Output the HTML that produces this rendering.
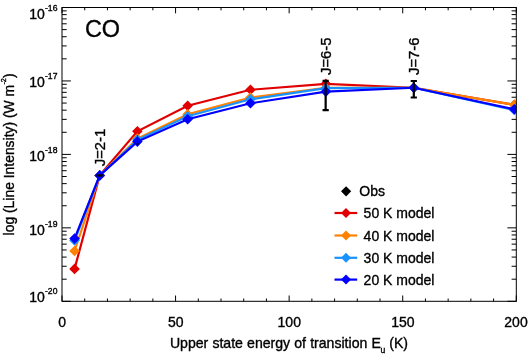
<!DOCTYPE html>
<html><head><meta charset="utf-8"><title>CO</title>
<style>html,body{margin:0;padding:0;background:#fff;}svg{display:block;}text{font-family:"Liberation Sans",sans-serif;fill:#000;stroke:#000;stroke-width:0.35px;}</style>
</head><body>
<svg width="530" height="360" viewBox="0 0 530 360" style="will-change:transform">
<rect x="0" y="0" width="530" height="360" fill="#fff"/>
<defs><clipPath id="c"><rect x="62.0" y="7.5" width="454.29999999999995" height="293.8"/></clipPath></defs>
<path d="M62.00,301.3v-5.8M62.00,7.5v5.8M84.72,301.3v-2.8M84.72,7.5v2.8M107.43,301.3v-2.8M107.43,7.5v2.8M130.14,301.3v-2.8M130.14,7.5v2.8M152.86,301.3v-2.8M152.86,7.5v2.8M175.57,301.3v-5.8M175.57,7.5v5.8M198.29,301.3v-2.8M198.29,7.5v2.8M221.00,301.3v-2.8M221.00,7.5v2.8M243.72,301.3v-2.8M243.72,7.5v2.8M266.43,301.3v-2.8M266.43,7.5v2.8M289.15,301.3v-5.8M289.15,7.5v5.8M311.86,301.3v-2.8M311.86,7.5v2.8M334.58,301.3v-2.8M334.58,7.5v2.8M357.29,301.3v-2.8M357.29,7.5v2.8M380.01,301.3v-2.8M380.01,7.5v2.8M402.72,301.3v-5.8M402.72,7.5v5.8M425.44,301.3v-2.8M425.44,7.5v2.8M448.15,301.3v-2.8M448.15,7.5v2.8M470.87,301.3v-2.8M470.87,7.5v2.8M493.58,301.3v-2.8M493.58,7.5v2.8M516.30,301.3v-5.8M516.30,7.5v5.8M62.0,301.30h8.9M516.3,301.30h-8.9M62.0,279.19h4.7M516.3,279.19h-4.7M62.0,266.26h4.7M516.3,266.26h-4.7M62.0,257.08h4.7M516.3,257.08h-4.7M62.0,249.96h4.7M516.3,249.96h-4.7M62.0,244.14h4.7M516.3,244.14h-4.7M62.0,239.23h4.7M516.3,239.23h-4.7M62.0,234.97h4.7M516.3,234.97h-4.7M62.0,231.21h4.7M516.3,231.21h-4.7M62.0,227.85h8.9M516.3,227.85h-8.9M62.0,205.74h4.7M516.3,205.74h-4.7M62.0,192.81h4.7M516.3,192.81h-4.7M62.0,183.63h4.7M516.3,183.63h-4.7M62.0,176.51h4.7M516.3,176.51h-4.7M62.0,170.69h4.7M516.3,170.69h-4.7M62.0,165.78h4.7M516.3,165.78h-4.7M62.0,161.52h4.7M516.3,161.52h-4.7M62.0,157.76h4.7M516.3,157.76h-4.7M62.0,154.40h8.9M516.3,154.40h-8.9M62.0,132.29h4.7M516.3,132.29h-4.7M62.0,119.36h4.7M516.3,119.36h-4.7M62.0,110.18h4.7M516.3,110.18h-4.7M62.0,103.06h4.7M516.3,103.06h-4.7M62.0,97.24h4.7M516.3,97.24h-4.7M62.0,92.33h4.7M516.3,92.33h-4.7M62.0,88.07h4.7M516.3,88.07h-4.7M62.0,84.31h4.7M516.3,84.31h-4.7M62.0,80.95h8.9M516.3,80.95h-8.9M62.0,58.84h4.7M516.3,58.84h-4.7M62.0,45.91h4.7M516.3,45.91h-4.7M62.0,36.73h4.7M516.3,36.73h-4.7M62.0,29.61h4.7M516.3,29.61h-4.7M62.0,23.79h4.7M516.3,23.79h-4.7M62.0,18.88h4.7M516.3,18.88h-4.7M62.0,14.62h4.7M516.3,14.62h-4.7M62.0,10.86h4.7M516.3,10.86h-4.7M62.0,7.50h8.9M516.3,7.50h-8.9" stroke="#000" stroke-width="1" fill="none"/>
<g clip-path="url(#c)">
<polyline points="74.56,268.90 99.71,175.40 137.39,131.30 187.66,105.70 250.47,89.80 325.86,83.80 413.79,87.75 514.28,104.80" fill="none" stroke="#e10000" stroke-width="2.2" stroke-linejoin="miter"/>
<path d="M69.26,268.90L74.56,263.60L79.86,268.90L74.56,274.20ZM94.41,175.40L99.71,170.10L105.01,175.40L99.71,180.70ZM132.09,131.30L137.39,126.00L142.69,131.30L137.39,136.60ZM182.36,105.70L187.66,100.40L192.96,105.70L187.66,111.00ZM245.17,89.80L250.47,84.50L255.77,89.80L250.47,95.10ZM320.56,83.80L325.86,78.50L331.16,83.80L325.86,89.10ZM408.49,87.75L413.79,82.45L419.09,87.75L413.79,93.05ZM508.98,104.80L514.28,99.50L519.58,104.80L514.28,110.10Z" fill="#e10000"/>
<polyline points="74.56,251.00 99.71,175.40 137.39,138.60 187.66,114.20 250.47,97.50 325.86,87.75 413.79,87.75 514.28,104.80" fill="none" stroke="#ff8200" stroke-width="2.2" stroke-linejoin="miter"/>
<path d="M69.26,251.00L74.56,245.70L79.86,251.00L74.56,256.30ZM94.41,175.40L99.71,170.10L105.01,175.40L99.71,180.70ZM132.09,138.60L137.39,133.30L142.69,138.60L137.39,143.90ZM182.36,114.20L187.66,108.90L192.96,114.20L187.66,119.50ZM245.17,97.50L250.47,92.20L255.77,97.50L250.47,102.80ZM320.56,87.75L325.86,82.45L331.16,87.75L325.86,93.05ZM408.49,87.75L413.79,82.45L419.09,87.75L413.79,93.05ZM508.98,104.80L514.28,99.50L519.58,104.80L514.28,110.10Z" fill="#ff8200"/>
<polyline points="74.56,240.50 99.71,175.40 137.39,139.80 187.66,116.20 250.47,99.30 325.86,88.15 413.79,87.75 514.28,110.00" fill="none" stroke="#1892ff" stroke-width="2.2" stroke-linejoin="miter"/>
<path d="M69.26,240.50L74.56,235.20L79.86,240.50L74.56,245.80ZM94.41,175.40L99.71,170.10L105.01,175.40L99.71,180.70ZM132.09,139.80L137.39,134.50L142.69,139.80L137.39,145.10ZM182.36,116.20L187.66,110.90L192.96,116.20L187.66,121.50ZM245.17,99.30L250.47,94.00L255.77,99.30L250.47,104.60ZM320.56,88.15L325.86,82.85L331.16,88.15L325.86,93.45ZM408.49,87.75L413.79,82.45L419.09,87.75L413.79,93.05ZM508.98,110.00L514.28,104.70L519.58,110.00L514.28,115.30Z" fill="#1892ff"/>
<polyline points="74.56,238.60 99.71,175.40 137.39,141.60 187.66,119.20 250.47,103.30 325.86,91.60 413.79,87.75 514.28,109.20" fill="none" stroke="#0000ff" stroke-width="2.2" stroke-linejoin="miter"/>
<path d="M69.26,238.60L74.56,233.30L79.86,238.60L74.56,243.90ZM94.41,175.40L99.71,170.10L105.01,175.40L99.71,180.70ZM132.09,141.60L137.39,136.30L142.69,141.60L137.39,146.90ZM182.36,119.20L187.66,113.90L192.96,119.20L187.66,124.50ZM245.17,103.30L250.47,98.00L255.77,103.30L250.47,108.60ZM320.56,91.60L325.86,86.30L331.16,91.60L325.86,96.90ZM408.49,87.75L413.79,82.45L419.09,87.75L413.79,93.05ZM508.98,109.20L514.28,103.90L519.58,109.20L514.28,114.50Z" fill="#0000ff"/>
</g>
<rect x="62.0" y="7.5" width="454.29999999999995" height="293.8" fill="none" stroke="#000" stroke-width="1.0"/>
<path d="M325.65,80.90V110.10M322.55,80.90H328.75M322.55,110.10H328.75" stroke="#000" stroke-width="2.2" fill="none"/>
<path d="M413.80,81.00V97.50M410.70,81.00H416.90M410.70,97.50H416.90" stroke="#000" stroke-width="2.2" fill="none"/>
<path d="M96.61,175.4H102.81" stroke="#000" stroke-width="2.4" fill="none"/>
<path d="M137.5,135.3V145.3M135.2,142.2L137.5,145.5L139.8,142.2" stroke="#000" stroke-opacity="0.65" stroke-width="1" fill="none"/>
<text x="29.2" y="18.7" font-size="14.0">10</text>
<text x="45.0" y="10.799999999999999" font-size="8.6">-16</text>
<text x="29.2" y="87.35" font-size="14.0">10</text>
<text x="45.0" y="79.45" font-size="8.6">-17</text>
<text x="29.2" y="160.8" font-size="14.0">10</text>
<text x="45.0" y="152.9" font-size="8.6">-18</text>
<text x="29.2" y="234.8" font-size="14.0">10</text>
<text x="45.0" y="226.9" font-size="8.6">-19</text>
<text x="29.2" y="301.5" font-size="14.0">10</text>
<text x="45.0" y="293.59999999999997" font-size="8.6">-20</text>
<text x="62.10" y="326.7" font-size="14.0" text-anchor="middle">0</text>
<text x="175.67" y="326.7" font-size="14.0" text-anchor="middle">50</text>
<text x="289.25" y="326.7" font-size="14.0" text-anchor="middle">100</text>
<text x="402.82" y="326.7" font-size="14.0" text-anchor="middle">150</text>
<text x="516.00" y="326.7" font-size="14.0" text-anchor="middle">200</text>
<text x="169.9" y="347.9" font-size="14.1" style="word-spacing:0.2px">Upper state energy of transition E<tspan font-size="8.6" dy="5.0" dx="-0.3">u</tspan><tspan dy="-5.0" dx="-0.2"> (K)</tspan></text>
<text transform="translate(14.2,154.4) rotate(-90)" font-size="13.9" text-anchor="middle">log (Line Intensity) (W m<tspan font-size="7.2" dy="-8.7" dx="0.3">-2</tspan><tspan dy="8.7" dx="0.2">)</tspan></text>
<text transform="translate(84.9,37.3) scale(0.95,1)" font-size="24.7">CO</text>
<text transform="translate(104.6,166.2) rotate(-90)" font-size="14.8">J=2-1</text>
<text transform="translate(331.4,75.0) rotate(-90)" font-size="14.8">J=6-5</text>
<text transform="translate(419.4,75.0) rotate(-90)" font-size="14.8">J=7-6</text>
<path d="M341.00,191.35L346.10,186.25L351.20,191.35L346.10,196.45Z" fill="#000"/>
<text x="359.3" y="196.3" font-size="14.0">Obs</text>
<path d="M334.5,213.0H357.2" stroke="#e10000" stroke-width="2.2" fill="none"/>
<path d="M341.00,213.00L346.00,208.00L351.00,213.00L346.00,218.00Z" fill="#e10000"/>
<text x="363.6" y="218.40" font-size="14.0">50 K model</text>
<path d="M334.5,235.5H357.2" stroke="#ff8200" stroke-width="2.2" fill="none"/>
<path d="M341.00,235.50L346.00,230.50L351.00,235.50L346.00,240.50Z" fill="#ff8200"/>
<text x="363.6" y="240.90" font-size="14.0">40 K model</text>
<path d="M334.5,257.8H357.2" stroke="#1892ff" stroke-width="2.2" fill="none"/>
<path d="M341.00,257.80L346.00,252.80L351.00,257.80L346.00,262.80Z" fill="#1892ff"/>
<text x="363.6" y="263.20" font-size="14.0">30 K model</text>
<path d="M334.5,279.6H357.2" stroke="#0000ff" stroke-width="2.2" fill="none"/>
<path d="M341.00,279.60L346.00,274.60L351.00,279.60L346.00,284.60Z" fill="#0000ff"/>
<text x="363.6" y="285.00" font-size="14.0">20 K model</text>
</svg></body></html>
